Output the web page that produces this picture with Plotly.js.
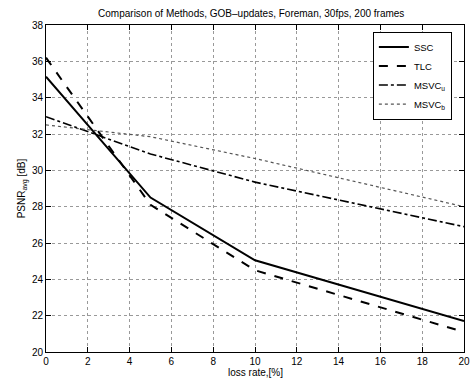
<!DOCTYPE html>
<html><head><meta charset="utf-8">
<script src="https://cdn.plot.ly/plotly-3.0.1.min.js"></script>
<style>html,body{margin:0;padding:0;background:#fff}#c{width:474px;height:378px}</style>
</head><body><div id="c"></div>
<script>
const lossRate = [0, 5, 10, 20];
const ssc = [35.15, 28.5, 25.05, 21.7];
const tlc = [36.2, 28.1, 24.5, 21.1];
const msvcU = [32.95, 30.9, 29.35, 26.9];
const msvcB = [32.5, 31.85, 30.65, 28.0];
const names = ['SSC', 'TLC', 'MSVC<sub>u</sub>', 'MSVC<sub>b</sub>'];
const xTicks = [0,2,4,6,8,10,12,14,16,18,20];
const yTicks = [20,22,24,26,28,30,32,34,36,38];

const font = {family: 'Liberation Sans, Arial, sans-serif', size: 10, color: '#000'};
const traces = [
  {x: lossRate, y: ssc, name: names[0], mode: 'lines', line: {color: '#000', width: 2, dash: 'solid'}},
  {x: lossRate, y: tlc, name: names[1], mode: 'lines', line: {color: '#000', width: 2, dash: 'dash'}},
  {x: lossRate, y: msvcU, name: names[2], mode: 'lines', line: {color: '#000', width: 1.6, dash: 'dashdot'}},
  {x: lossRate, y: msvcB, name: names[3], mode: 'lines', line: {color: '#555', width: 1.2, dash: 'dot'}}
];
const axisCommon = {
  showline: true, linecolor: '#000', linewidth: 1, mirror: 'ticks',
  ticks: 'inside', ticklen: 5, tickcolor: '#000',
  showgrid: true, gridcolor: '#999', griddash: 'dot', gridwidth: 1,
  zeroline: false, tickfont: font, automargin: false
};
const layout = {
  width: 474, height: 378,
  margin: {l: 46, r: 10, t: 25, b: 26},
  paper_bgcolor: '#fff', plot_bgcolor: '#fff',
  font: font,
  title: {text: 'Comparison of Methods, GOB\u2013updates, Foreman, 30fps, 200 frames', font: {family: font.family, size: 10, color: '#000'}, x: 0.53, xanchor: 'center', y: 0.965, yanchor: 'middle'},
  xaxis: Object.assign({}, axisCommon, {range: [0, 20], tickvals: xTicks, ticktext: xTicks.map(String)}),
  yaxis: Object.assign({}, axisCommon, {range: [20, 38], tickvals: yTicks, ticktext: yTicks.map(String),
    title: {text: 'PSNR<sub>avg</sub> [dB]', font: font, standoff: 4}}),
  annotations: [{text: 'loss rate,[%]', xref: 'paper', yref: 'paper', x: 0.5, y: 0, xanchor: 'center', yanchor: 'top',
    yshift: -14, borderpad: 0, showarrow: false, font: font}],
  legend: {x: 0.782, y: 0.98, xanchor: 'left', yanchor: 'top', bgcolor: '#fff', bordercolor: '#000', borderwidth: 1,
    font: {family: font.family, size: 9.5, color: '#000'}, tracegroupgap: 0, itemwidth: 30},
  showlegend: true
};
Plotly.newPlot('c', traces, layout, {displayModeBar: false, staticPlot: true});
</script>
</body></html>
